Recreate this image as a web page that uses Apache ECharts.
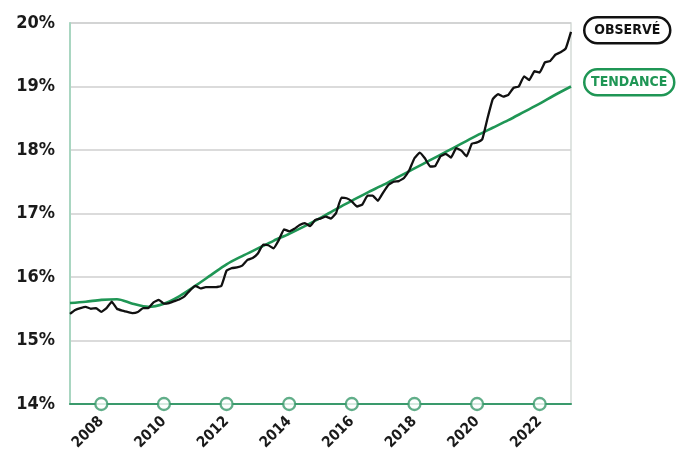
<!DOCTYPE html>
<html>
<head>
<meta charset="utf-8">
<script src="https://cdn.jsdelivr.net/npm/echarts@6/dist/echarts.min.js"></script>
<style>
html,body{margin:0;padding:0;background:#fff;}
#chart{width:681px;height:451px;}
</style>
</head>
<body>
<div id="chart"></div>
<script>
// Observed series: one value every two months, starting January 2007
const observedStartYear = 2007;
const observedStepYears = 1 / 6;
const observed = [
  15.42, 15.48, 15.51, 15.53, 15.50, 15.51, 15.45, 15.51, 15.61, 15.50,
  15.47, 15.45, 15.43, 15.45, 15.51, 15.51, 15.60, 15.64, 15.58, 15.59,
  15.62, 15.65, 15.70, 15.79, 15.86, 15.82, 15.84, 15.84, 15.84, 15.86,
  16.10, 16.14, 16.15, 16.18, 16.27, 16.30, 16.37, 16.51, 16.50, 16.45,
  16.58, 16.75, 16.72, 16.76, 16.82, 16.85, 16.80, 16.90, 16.92, 16.95,
  16.92, 17.01, 17.25, 17.24, 17.19, 17.11, 17.14, 17.28, 17.28, 17.20,
  17.33, 17.45, 17.50, 17.51, 17.56, 17.68, 17.87, 17.96, 17.87, 17.74,
  17.75, 17.90, 17.94, 17.88, 18.03, 17.99, 17.90, 18.10, 18.12, 18.17,
  18.50, 18.80, 18.88, 18.84, 18.87, 18.98, 19.00, 19.16, 19.10, 19.24,
  19.22, 19.38, 19.40, 19.50, 19.54, 19.60, 19.86
];
// Trend series: one value every half year, starting January 2007
const trendStartYear = 2007;
const trendStepYears = 0.5;
const trend = [
  15.59, 15.61, 15.64, 15.65, 15.58, 15.53, 15.58, 15.70, 15.86, 16.03,
  16.20, 16.33, 16.45, 16.57, 16.68, 16.80, 16.93, 17.07, 17.20, 17.33,
  17.45, 17.58, 17.71, 17.84, 17.97, 18.10, 18.23, 18.35, 18.47, 18.60,
  18.73, 18.87, 19.00
];
const xTickYears = [2008, 2010, 2012, 2014, 2016, 2018, 2020, 2022];
const yMin = 14, yMax = 20, yStep = 1;
const legendLabels = ['OBSERVÉ', 'TENDANCE'];

const GREEN = '#1f9655';
const AXIS_GREEN = '#3a9a6c';
const FONT = '"DejaVu Sans Condensed", "DejaVu Sans", sans-serif';

const observedData = observed.map((v, i) => [observedStartYear + i * observedStepYears, v]);
const trendData = trend.map((v, i) => [trendStartYear + i * trendStepYears, v]);
const tickData = xTickYears.map(y => [y, yMin]);

const chart = echarts.init(document.getElementById('chart'), null, {renderer: 'canvas'});
chart.setOption({
  animation: false,
  backgroundColor: '#fff',
  grid: {left: 70, right: 110, top: 23, bottom: 47, outerBoundsMode: 'none', containLabel: false,
         show: true, borderColor: '#d5dcd8', borderWidth: 1.5, backgroundColor: 'transparent'},
  xAxis: {
    type: 'value', min: 2007, max: 2023,
    axisLine: {show: true, lineStyle: {color: AXIS_GREEN, width: 2}},
    axisTick: {show: false},
    splitLine: {show: false},
    axisLabel: {
      customValues: xTickYears, rotate: 45, margin: 15,
      fontFamily: FONT, fontWeight: 'bold', fontSize: 15, color: '#1a1a1a',
      formatter: v => String(v)
    }
  },
  yAxis: {
    type: 'value', min: yMin, max: yMax, interval: yStep,
    axisLine: {show: true, lineStyle: {color: '#a9d6c1', width: 2}},
    axisTick: {show: false},
    splitLine: {show: true, lineStyle: {color: '#cfcfcf', width: 1.5}},
    axisLabel: {
      margin: 15, fontFamily: FONT, fontWeight: 'bold', fontSize: 18, color: '#1a1a1a',
      formatter: '{value}%'
    }
  },
  series: [
    {
      name: legendLabels[1], type: 'line', data: trendData, smooth: 0.3, showSymbol: false,
      lineStyle: {color: GREEN, width: 2.6}, z: 3
    },
    {
      name: legendLabels[0], type: 'line', data: observedData, smooth: 0.1, showSymbol: false,
      lineStyle: {color: '#111', width: 2.3}, z: 4
    },
    {
      type: 'scatter', data: tickData, symbol: 'circle', symbolSize: 12, clip: false,
      itemStyle: {color: '#fff', borderColor: AXIS_GREEN, borderWidth: 2.3}, z: 5, silent: true
    }
  ],
  graphic: [
    {
      type: 'group', left: 583, top: 16,
      children: [
        {type: 'rect', shape: {x: 0, y: 0, width: 86, height: 26, r: 13},
         style: {fill: '#fff', stroke: '#111', lineWidth: 2.5}},
        {type: 'text', x: 43, y: 13,
         style: {text: legendLabels[0], fill: '#111', font: 'bold 14px ' + FONT, align: 'center', verticalAlign: 'middle'}}
      ]
    },
    {
      type: 'group', left: 583, top: 68,
      children: [
        {type: 'rect', shape: {x: 0, y: 0, width: 90, height: 26, r: 13},
         style: {fill: '#fff', stroke: GREEN, lineWidth: 2.5}},
        {type: 'text', x: 45, y: 13,
         style: {text: legendLabels[1], fill: GREEN, font: 'bold 14px ' + FONT, align: 'center', verticalAlign: 'middle'}}
      ]
    }
  ]
});
</script>
</body>
</html>
